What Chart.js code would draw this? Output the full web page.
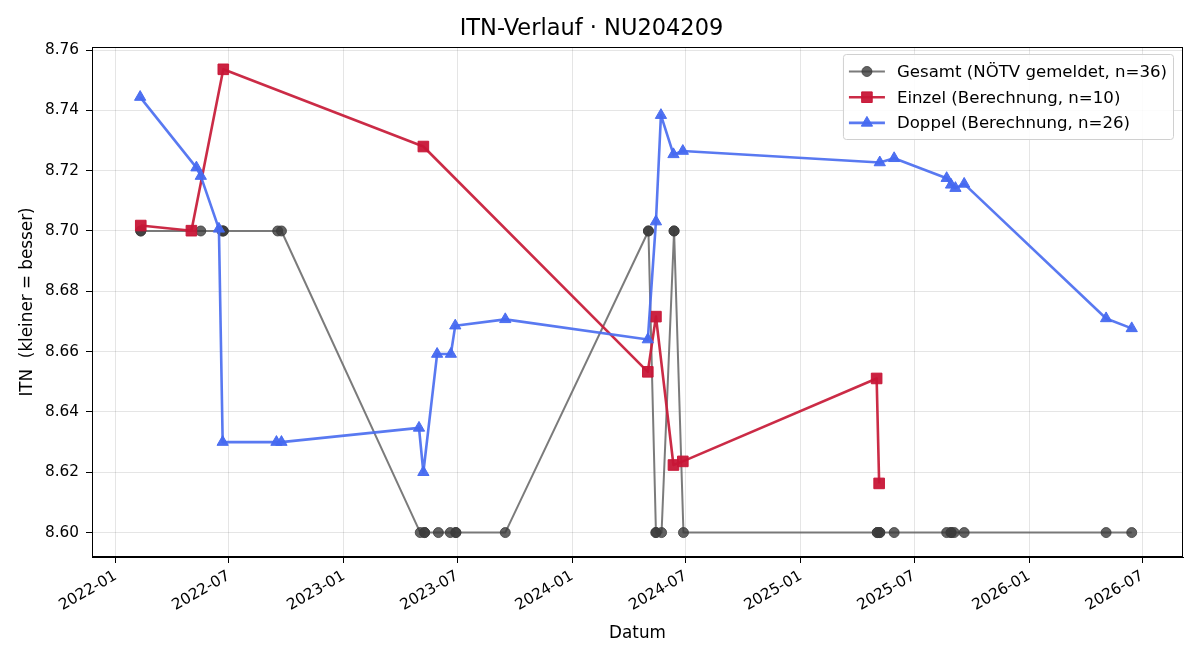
<!DOCTYPE html>
<html>
<head>
<meta charset="utf-8">
<title>ITN-Verlauf</title>
<script src="https://cdn.jsdelivr.net/npm/chart.js@4.4.1/dist/chart.umd.min.js"></script>
<style>
    html, body { margin: 0; padding: 0; background: #fff; }
    #wrap { width: 1200px; height: 660px; }
</style>
</head>
<body>
<div id="wrap"><canvas id="chart_itn" width="1200" height="660"></canvas></div>
<script>
// data
var gesamt_dates = [
    '2022-02-10', '2022-02-10', '2022-05-17', '2022-06-20', '2022-06-22', '2022-06-22',
    '2022-09-17', '2022-09-23', '2023-05-03', '2023-05-10', '2023-05-10', '2023-06-01',
    '2023-06-20', '2023-06-29', '2023-06-29', '2023-09-16', '2024-05-02', '2024-05-02',
    '2024-05-14', '2024-05-14', '2024-05-23', '2024-06-12', '2024-06-12', '2024-06-27',
    '2025-05-03', '2025-05-03', '2025-05-07', '2025-05-07', '2025-05-30', '2025-08-22',
    '2025-08-29', '2025-08-29', '2025-09-03', '2025-09-19', '2026-05-04', '2026-06-14'
];
var gesamt_values = [
    8.70, 8.70, 8.70, 8.70, 8.70, 8.70,
    8.70, 8.70, 8.60, 8.60, 8.60, 8.60,
    8.60, 8.60, 8.60, 8.60, 8.70, 8.70,
    8.60, 8.60, 8.60, 8.70, 8.70, 8.60,
    8.60, 8.60, 8.60, 8.60, 8.60, 8.60,
    8.60, 8.60, 8.60, 8.60, 8.60, 8.60
];

var einzel_dates = [
    '2022-02-10', '2022-05-02', '2022-06-22', '2023-05-08', '2024-05-01',
    '2024-05-14', '2024-06-11', '2024-06-26', '2025-05-02', '2025-05-06'
];
var einzel_values = [
    8.7018, 8.7001, 8.7536, 8.7280, 8.6533,
    8.6716, 8.6224, 8.6236, 8.6511, 8.6163
];

var doppel_dates = [
    '2022-02-09', '2022-05-10', '2022-05-17', '2022-06-15', '2022-06-21', '2022-09-15',
    '2022-09-23', '2023-05-01', '2023-05-08', '2023-05-30', '2023-06-21', '2023-06-28',
    '2023-09-16', '2024-05-01', '2024-05-14', '2024-05-22', '2024-06-11', '2024-06-26',
    '2025-05-07', '2025-05-30', '2025-08-22', '2025-08-29', '2025-09-05', '2025-09-19',
    '2026-05-04', '2026-06-14'
];
var doppel_values = [
    8.7444, 8.7210, 8.7182, 8.7007, 8.6300, 8.6300,
    8.6300, 8.6347, 8.6200, 8.6592, 8.6592, 8.6686,
    8.6707, 8.6640, 8.7031, 8.7384, 8.7254, 8.7265,
    8.7227, 8.7241, 8.7175, 8.7153, 8.7142, 8.7156,
    8.6710, 8.6677
];

var x_tick_labels = [
    '2022-01', '2022-07', '2023-01', '2023-07', '2024-01',
    '2024-07', '2025-01', '2025-07', '2026-01', '2026-07'
];
var y_ticks = [8.60, 8.62, 8.64, 8.66, 8.68, 8.70, 8.72, 8.74, 8.76];

var label_gesamt = 'Gesamt (NÖTV gemeldet, n=36)';
var label_einzel = 'Einzel (Berechnung, n=10)';
var label_doppel = 'Doppel (Berechnung, n=26)';

var FONT = "'DejaVu Sans', sans-serif";

function ts(d) {
    return Date.parse(d);
}

function points(dates, values) {
    var out = [];
    for (var i = 0; i < dates.length; ++i) {
        out.push({x: ts(dates[i]), y: values[i]});
    }
    return out;
}

function month_label(v) {
    var d = new Date(v);
    var m = d.getUTCMonth() + 1;
    if (m < 10) m = '0' + m;
    return d.getUTCFullYear() + '-' + m;
}

// matplotlib style frame + legend inside the axes
var frame_plugin = {
    id: 'frame',
    afterDraw: function(chart) {
        var ctx = chart.ctx;
        var a = chart.chartArea;
        ctx.save();
        ctx.strokeStyle = '#000';
        ctx.lineWidth = 1;
        ctx.strokeRect(a.left + 0.5, a.top + 0.5, a.right - a.left - 1, a.bottom - a.top - 1);

        // legend
        ctx.font = '16.6px ' + FONT;
        var rows = chart.data.datasets;
        var text_w = 0;
        rows.forEach(function(ds) {
            text_w = Math.max(text_w, ctx.measureText(ds.label).width);
        });
        var box_w = 54 + text_w + 6;
        var box_h = 85;
        var bx = a.right - 10 - box_w;
        var by = a.top + 7;

        ctx.beginPath();
        ctx.roundRect(bx + 0.5, by + 0.5, box_w, box_h, 3);
        ctx.fillStyle = 'rgba(255,255,255,0.85)';
        ctx.fill();
        ctx.strokeStyle = '#d0d0d0';
        ctx.stroke();

        rows.forEach(function(ds, i) {
            var cy = by + 17.5 + i * 25.7;
            ctx.beginPath();
            ctx.moveTo(bx + 6, cy);
            ctx.lineTo(bx + 42, cy);
            ctx.strokeStyle = ds.borderColor;
            ctx.lineWidth = ds.borderWidth;
            ctx.stroke();
            ctx.fillStyle = ds.pointBackgroundColor;
            ctx.strokeStyle = ds.pointBorderColor;
            ctx.lineWidth = 1;
            Chart.helpers.drawPoint(ctx, {pointStyle: ds.pointStyle, radius: ds.pointRadius, borderWidth: 1}, bx + 24, cy);
            ctx.fillStyle = '#000';
            ctx.textBaseline = 'middle';
            ctx.textAlign = 'left';
            ctx.fillText(ds.label, bx + 54, cy + 1);
        });
        ctx.restore();
    }
};

var chart_config = {
    type: 'line',
    data: {
        datasets: [{
            label: label_gesamt,
            data: points(gesamt_dates, gesamt_values),
            borderColor: 'rgba(100,100,100,0.85)',
            borderWidth: 2,
            borderJoinStyle: 'round',
            pointStyle: 'circle',
            pointRadius: 5,
            pointBackgroundColor: 'rgba(60,60,60,0.8)',
            pointBorderColor: 'rgba(60,60,60,0.8)',
            pointBorderWidth: 1,
            tension: 0,
            order: 3
        }, {
            label: label_einzel,
            data: points(einzel_dates, einzel_values),
            borderColor: 'rgba(200,32,60,0.95)',
            borderWidth: 2.6,
            borderJoinStyle: 'round',
            pointStyle: 'rect',
            pointRadius: 7.5,
            pointBackgroundColor: 'rgba(200,22,55,0.95)',
            pointBorderColor: 'rgba(200,22,55,0.95)',
            pointBorderWidth: 1,
            tension: 0,
            order: 2
        }, {
            label: label_doppel,
            data: points(doppel_dates, doppel_values),
            borderColor: 'rgba(75,110,240,0.92)',
            borderWidth: 2.6,
            borderJoinStyle: 'round',
            pointStyle: 'triangle',
            pointRadius: 6.5,
            pointBackgroundColor: 'rgba(70,105,240,0.95)',
            pointBorderColor: 'rgba(70,105,240,0.95)',
            pointBorderWidth: 1,
            tension: 0,
            order: 1
        }]
    },
    options: {
        responsive: false,
        animation: false,
        layout: {
            padding: {left: 0, right: 17, top: 0, bottom: 0}
        },
        plugins: {
            legend: { display: false },
            tooltip: { enabled: false },
            title: {
                display: true,
                text: 'ITN-Verlauf · NU204209',
                color: '#000',
                font: { family: FONT, size: 22.5, weight: 'normal' },
                padding: { top: 16, bottom: 4 }
            }
        },
        scales: {
            x: {
                type: 'linear',
                min: ts('2021-11-24'),
                max: ts('2026-09-04'),
                afterBuildTicks: function(scale) {
                    scale.ticks = x_tick_labels.map(function(l) {
                        return {value: ts(l + '-01')};
                    });
                },
                afterFit: function(scale) {
                    scale.height = 103;
                },
                ticks: {
                    autoSkip: false,
                    minRotation: 30,
                    maxRotation: 30,
                    padding: 4,
                    color: '#000',
                    font: { family: FONT, size: 15.3 },
                    callback: function(v) { return month_label(v); }
                },
                grid: {
                    color: 'rgba(0,0,0,0.1)',
                    tickColor: '#000',
                    tickLength: 6,
                    lineWidth: 1
                },
                border: { display: true, color: '#000' },
                title: {
                    display: true,
                    text: 'Datum',
                    color: '#000',
                    font: { family: FONT, size: 16.8 },
                    padding: { top: 0, bottom: 16 }
                }
            },
            y: {
                type: 'linear',
                min: 8.5919,
                max: 8.7610,
                afterBuildTicks: function(scale) {
                    scale.ticks = y_ticks.map(function(v) { return {value: v}; });
                },
                afterFit: function(scale) {
                    scale.width = 92;
                },
                ticks: {
                    padding: 7,
                    color: '#000',
                    font: { family: FONT, size: 15.3 },
                    callback: function(v) { return v.toFixed(2); }
                },
                grid: {
                    color: 'rgba(0,0,0,0.1)',
                    tickColor: '#000',
                    tickLength: 6,
                    lineWidth: 1
                },
                border: { display: true, color: '#000' },
                title: {
                    display: true,
                    text: 'ITN  (kleiner = besser)',
                    color: '#000',
                    font: { family: FONT, size: 16.8 },
                    padding: { top: 18, bottom: 0 }
                }
            }
        }
    },
    plugins: [frame_plugin]
};

var chart_itn = new Chart(document.getElementById('chart_itn'), chart_config);
</script>
</body>
</html>
